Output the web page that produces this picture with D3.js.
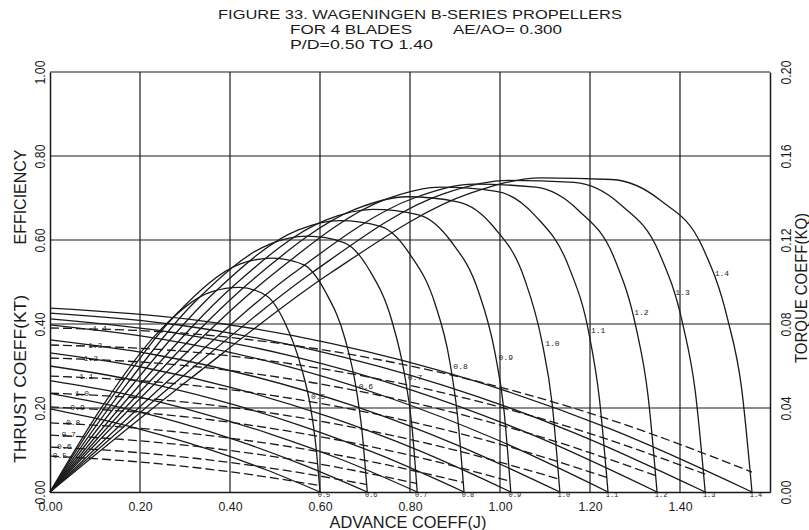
<!DOCTYPE html>
<html><head><meta charset="utf-8">
<script src="https://cdn.jsdelivr.net/npm/d3@7"></script>
<style>
body{margin:0;background:#fff;}
svg{display:block;}
text{font-family:"Liberation Sans", Arial, sans-serif; fill:#1a1a1a;}
.small{font-family:"Liberation Mono","DejaVu Sans Mono",monospace;font-size:8px;fill:#1a1a1a;}
</style></head><body>
<svg id="chart" width="809" height="530"></svg>
<script>
// ---------------- DATA ----------------
const pdLabels = ["0.5","0.6","0.7","0.8","0.9","1.0","1.1","1.2","1.3","1.4"];
const jMax = [0.60, 0.705, 0.816, 0.92, 1.024, 1.133, 1.24, 1.349, 1.456, 1.56];
const jTicks = [0, 0.2, 0.4, 0.6, 0.8, 1.0, 1.2, 1.4];
const leftTicks = [0, 0.2, 0.4, 0.6, 0.8, 1.0];
const rightTicks = [0, 0.04, 0.08, 0.12, 0.16, 0.20];

// advance coefficient points for KT and KQ curves
const ktJ = [
 [0, 0.12, 0.24, 0.36, 0.48, 0.60],
 [0, 0.141, 0.282, 0.423, 0.564, 0.705],
 [0, 0.163, 0.326, 0.490, 0.653, 0.816],
 [0, 0.184, 0.368, 0.552, 0.736, 0.92],
 [0, 0.205, 0.410, 0.614, 0.819, 1.024],
 [0, 0.227, 0.453, 0.680, 0.906, 1.133],
 [0, 0.248, 0.496, 0.744, 0.992, 1.24],
 [0, 0.270, 0.540, 0.809, 1.079, 1.349],
 [0, 0.291, 0.582, 0.874, 1.165, 1.456],
 [0, 0.312, 0.624, 0.936, 1.248, 1.56]
];
const ktVal = [
 [0.198, 0.171, 0.138, 0.099, 0.053, 0],
 [0.235, 0.205, 0.167, 0.120, 0.064, 0],
 [0.265, 0.234, 0.191, 0.138, 0.075, 0],
 [0.300, 0.267, 0.220, 0.160, 0.087, 0],
 [0.331, 0.297, 0.247, 0.181, 0.099, 0],
 [0.362, 0.328, 0.275, 0.203, 0.111, 0],
 [0.398, 0.364, 0.308, 0.228, 0.125, 0],
 [0.412, 0.380, 0.323, 0.241, 0.133, 0],
 [0.426, 0.397, 0.339, 0.254, 0.141, 0],
 [0.438, 0.411, 0.354, 0.267, 0.149, 0]
];
const kqVal = [
 [0.0171, 0.0156, 0.0135, 0.0107, 0.0072, 0.0030],
 [0.0214, 0.0197, 0.0170, 0.0134, 0.0089, 0.0035],
 [0.0271, 0.0250, 0.0217, 0.0171, 0.0112, 0.0040],
 [0.0329, 0.0306, 0.0265, 0.0209, 0.0135, 0.0045],
 [0.0405, 0.0378, 0.0329, 0.0258, 0.0165, 0.0050],
 [0.0471, 0.0443, 0.0388, 0.0305, 0.0196, 0.0060],
 [0.0552, 0.0522, 0.0459, 0.0362, 0.0232, 0.0068],
 [0.0638, 0.0608, 0.0536, 0.0424, 0.0270, 0.0076],
 [0.0700, 0.0671, 0.0595, 0.0472, 0.0302, 0.0085],
 [0.0781, 0.0754, 0.0671, 0.0534, 0.0342, 0.0095]
];
// efficiency curves
const etaJ = [
 [0, 0.12, 0.24, 0.36, 0.42, 0.48, 0.522, 0.558, 0.579, 0.591, 0.60],
 [0, 0.141, 0.282, 0.423, 0.494, 0.564, 0.613, 0.656, 0.680, 0.694, 0.705],
 [0, 0.163, 0.326, 0.490, 0.571, 0.653, 0.710, 0.759, 0.787, 0.804, 0.816],
 [0, 0.184, 0.368, 0.552, 0.644, 0.736, 0.800, 0.856, 0.888, 0.906, 0.92],
 [0, 0.205, 0.410, 0.614, 0.717, 0.819, 0.891, 0.952, 0.988, 1.009, 1.024],
 [0, 0.227, 0.453, 0.680, 0.793, 0.906, 0.986, 1.054, 1.093, 1.116, 1.133],
 [0, 0.248, 0.496, 0.744, 0.868, 0.992, 1.079, 1.153, 1.197, 1.221, 1.24],
 [0, 0.270, 0.540, 0.809, 0.944, 1.079, 1.174, 1.255, 1.302, 1.329, 1.349],
 [0, 0.291, 0.582, 0.874, 1.019, 1.165, 1.267, 1.354, 1.405, 1.434, 1.456],
 [0, 0.312, 0.624, 0.936, 1.092, 1.248, 1.357, 1.451, 1.505, 1.537, 1.56]
];
const etaVal = [
 [0, 0.210, 0.380, 0.477, 0.487, 0.468, 0.403, 0.298, 0.202, 0.109, 0],
 [0, 0.231, 0.425, 0.543, 0.557, 0.541, 0.475, 0.363, 0.249, 0.138, 0],
 [0, 0.246, 0.457, 0.591, 0.609, 0.594, 0.528, 0.410, 0.285, 0.160, 0],
 [0, 0.256, 0.478, 0.624, 0.646, 0.632, 0.566, 0.447, 0.313, 0.177, 0],
 [0, 0.262, 0.493, 0.648, 0.673, 0.660, 0.597, 0.478, 0.336, 0.193, 0],
 [0, 0.269, 0.508, 0.674, 0.703, 0.691, 0.631, 0.509, 0.359, 0.209, 0],
 [0, 0.274, 0.519, 0.696, 0.726, 0.716, 0.657, 0.536, 0.381, 0.221, 0],
 [0, 0.272, 0.520, 0.700, 0.733, 0.726, 0.671, 0.554, 0.393, 0.229, 0],
 [0, 0.272, 0.522, 0.710, 0.742, 0.737, 0.685, 0.569, 0.405, 0.239, 0],
 [0, 0.270, 0.522, 0.712, 0.748, 0.744, 0.694, 0.581, 0.415, 0.246, 0]
];
// efficiency level at which each curve carries its P/D label
const etaLabelLevel = [0.229, 0.252, 0.274, 0.300, 0.321, 0.355, 0.386, 0.429, 0.476, 0.521];
const titleLines = ["FIGURE 33. WAGENINGEN B-SERIES PROPELLERS", "FOR 4 BLADES", "AE/AO= 0.300", "P/D=0.50 TO 1.40"];

// ---------------- CHART ----------------
const svg = d3.select("#chart");
const x = d3.scaleLinear().domain([0, 1.6]).range([50, 770]);
const y = d3.scaleLinear().domain([0, 1]).range([492, 72]);
const yq = d3.scaleLinear().domain([0, 0.2]).range([492, 72]);
const ink = "#1a1a1a";

// grid
const grid = svg.append("g").attr("stroke", ink).attr("stroke-width", 1.2);
grid.selectAll(".vg").data(jTicks.slice(1)).join("line")
  .attr("x1", d => x(d)).attr("x2", d => x(d)).attr("y1", y(0)).attr("y2", y(1));
grid.selectAll(".hg").data(leftTicks.slice(1, -1)).join("line")
  .attr("x1", x(0)).attr("x2", x(1.6)).attr("y1", d => y(d)).attr("y2", d => y(d));
grid.append("line").attr("x1", x(0)).attr("x2", x(1.6)).attr("y1", y(1)).attr("y2", y(1));

// axes
const fmt = d3.format(".2f");
const tickFont = "Liberation Sans, Arial, sans-serif";
const bottomAxis = svg.append("g").attr("transform", `translate(0,${y(0)})`)
  .call(d3.axisBottom(x).tickValues(jTicks).tickFormat(fmt).tickSize(0).tickPadding(10));
bottomAxis.selectAll("text").attr("font-size", 13).attr("textLength", 24).attr("lengthAdjust", "spacingAndGlyphs")
  .attr("font-family", tickFont).attr("fill", ink);

const leftAxis = svg.append("g").attr("transform", `translate(${x(0)},0)`)
  .call(d3.axisLeft(y).tickValues(leftTicks).tickFormat(fmt).tickSize(0));
leftAxis.selectAll("text").attr("transform", "rotate(-90)").attr("x", 0).attr("y", -5).attr("dy", 0)
  .attr("text-anchor", "middle").attr("font-size", 14).attr("textLength", 24).attr("lengthAdjust", "spacingAndGlyphs")
  .attr("font-family", tickFont).attr("fill", ink);

const rightAxis = svg.append("g").attr("transform", `translate(${x(1.6)},0)`)
  .call(d3.axisRight(yq).tickValues(rightTicks).tickFormat(fmt).tickSize(0));
rightAxis.selectAll("text").attr("transform", "rotate(-90)").attr("x", 0).attr("y", 21).attr("dy", 0)
  .attr("text-anchor", "middle").attr("font-size", 14).attr("textLength", 24).attr("lengthAdjust", "spacingAndGlyphs")
  .attr("font-family", tickFont).attr("fill", ink);
svg.selectAll(".domain").attr("stroke", ink).attr("stroke-width", 1.5);

// curves
const pts = (js, vs) => js.map((j, k) => ({ j, v: vs[k] }));
const lineT = d3.line().x(d => x(d.j)).y(d => y(d.v)).curve(d3.curveMonotoneX);
const lineQ = d3.line().x(d => x(d.j)).y(d => yq(d.v)).curve(d3.curveMonotoneX);
const curves = svg.append("g").attr("fill", "none").attr("stroke", ink).attr("stroke-width", 1.3);

curves.selectAll(".kt").data(pdLabels).join("path")
  .attr("d", (p, i) => lineT(pts(ktJ[i], ktVal[i])));
curves.selectAll(".kq").data(pdLabels).join("path")
  .attr("stroke-dasharray", "9,4")
  .attr("d", (p, i) => lineQ(pts(ktJ[i], kqVal[i])));
curves.selectAll(".eta").data(pdLabels).join("path")
  .attr("d", (p, i) => lineT(pts(etaJ[i], etaVal[i])));

// labels
const lab = svg.append("g");
// efficiency labels: just right of the falling branch, at the given efficiency level
lab.selectAll(".le").data(pdLabels).join("text").attr("class", "small")
  .attr("x", (p, i) => {
    const fall = d3.scaleLinear().domain(etaVal[i].slice(5)).range(etaJ[i].slice(5));
    return x(fall(etaLabelLevel[i])) + 3;
  })
  .attr("y", (p, i) => y(etaLabelLevel[i]) + 3).text(p => p);
// KT end labels along the J axis
lab.selectAll(".lb").data(pdLabels).join("text").attr("class", "small")
  .attr("text-anchor", "middle").style("font-size", "7px")
  .attr("x", (p, i) => x(jMax[i]) + 4).attr("y", y(0) + 5).text(p => p);
// KQ labels near the left axis
lab.selectAll(".lq").data(pdLabels).join("text").attr("class", "small")
  .attr("text-anchor", "middle")
  .attr("x", (p, i) => x(0.022 + 0.0098 * i))
  .attr("y", (p, i) => yq(d3.scaleLinear().domain(ktJ[i]).range(kqVal[i])(0.022 + 0.0098 * i)) + 1)
  .text(p => p);

// titles
const T = svg.append("g").attr("fill", ink);
T.append("text").attr("x", 218).attr("y", 19).attr("font-size", 13.5).attr("textLength", 404)
  .attr("lengthAdjust", "spacingAndGlyphs").text(titleLines[0]);
T.append("text").attr("x", 290).attr("y", 34).attr("font-size", 13.5).attr("textLength", 122)
  .attr("lengthAdjust", "spacingAndGlyphs").text(titleLines[1]);
T.append("text").attr("x", 453).attr("y", 34).attr("font-size", 13.5).attr("textLength", 109)
  .attr("lengthAdjust", "spacingAndGlyphs").text(titleLines[2]);
T.append("text").attr("x", 290).attr("y", 49).attr("font-size", 13.5).attr("textLength", 143)
  .attr("lengthAdjust", "spacingAndGlyphs").text(titleLines[3]);

T.append("text").attr("x", 408).attr("y", 528).attr("text-anchor", "middle").attr("font-size", 16)
  .attr("textLength", 157).attr("lengthAdjust", "spacingAndGlyphs").text("ADVANCE COEFF(J)");
T.append("text").attr("transform", "translate(26,379) rotate(-90)").attr("text-anchor", "middle").attr("font-size", 17)
  .attr("textLength", 168).attr("lengthAdjust", "spacingAndGlyphs").text("THRUST COEFF(KT)");
T.append("text").attr("transform", "translate(26,197) rotate(-90)").attr("text-anchor", "middle").attr("font-size", 17)
  .attr("textLength", 95).attr("lengthAdjust", "spacingAndGlyphs").text("EFFICIENCY");
T.append("text").attr("transform", "translate(807,288) rotate(-90)").attr("text-anchor", "middle").attr("font-size", 16)
  .attr("textLength", 150).attr("lengthAdjust", "spacingAndGlyphs").text("TORQUE COEFF(KQ)");
</script>
</body></html>
